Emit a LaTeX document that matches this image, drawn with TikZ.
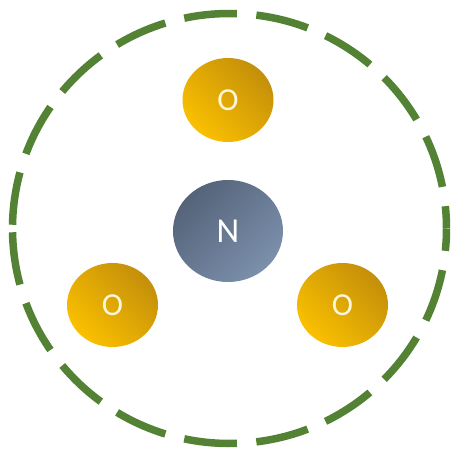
\documentclass[tikz,border=0pt]{standalone}
\usepackage{fontspec}
\setmainfont{Carlito}
\usetikzlibrary{shapes}

\definecolor{ringgreen}{RGB}{84,130,53}
\definecolor{golddark}{RGB}{196,143,10}
\definecolor{goldlight}{RGB}{250,192,0}
\definecolor{slatedark}{RGB}{84,99,121}
\definecolor{slatelight}{RGB}{124,144,172}
\definecolor{oletter}{RGB}{255,246,222}

\tikzset{
  oatom/.style={ellipse,inner sep=0pt,minimum width=91pt,minimum height=84pt,
    top color=golddark,bottom color=goldlight,shading angle=-45,
    text=oletter,font=\fontsize{32}{32}\selectfont},
  natom/.style={ellipse,inner sep=0pt,minimum width=110pt,minimum height=102pt,
    top color=slatedark,bottom color=slatelight,shading angle=45,
    text=white,font=\fontsize{35}{35}\selectfont},
  ring/.style={ringgreen,line width=7.5pt,dash pattern=on 53pt off 19.5pt}
}

\begin{document}
\begin{tikzpicture}[x=1pt,y=-1pt]
\useasboundingbox (0,0) rectangle (452,450);
\coordinate (ctr) at (229.5,228.5);
\draw[ring] (ctr) ++(179:217 and 215) arc[start angle=179,end angle=0,x radius=217,y radius=215];
\draw[ring] (ctr) ++(181:217 and 215) arc[start angle=181,end angle=360,x radius=217,y radius=215];
\node[natom] (nit) at (228,231) {N};
\node[oatom] (otop) at (228,100) {O};
\node[oatom] (oleft) at (112.5,305) {O};
\node[oatom] (oright) at (342.5,305) {O};
\end{tikzpicture}
\end{document}
